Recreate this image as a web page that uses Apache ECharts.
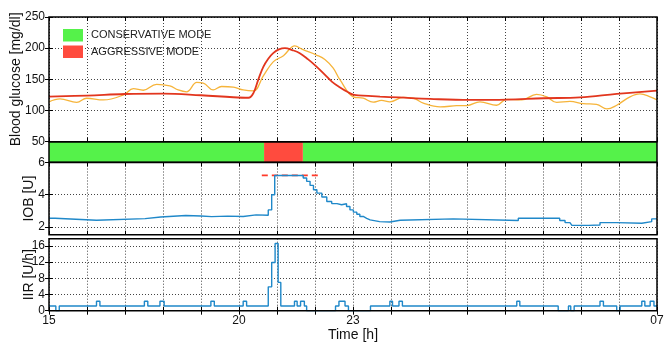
<!DOCTYPE html>
<html><head><meta charset="utf-8">
<script src="https://cdn.jsdelivr.net/npm/echarts@6/dist/echarts.min.js"></script>
<style>html,body{margin:0;padding:0;background:#fff}#c{width:664px;height:343px}</style>
</head><body><div id="c"></div><script>
// ---- data (hours since 15:00) ----
const xLabelValues = [0, 5, 8, 16];
const xLabelTexts = ['15', '20', '23', '07'];
const bgTicks = [50, 100, 150, 200, 250];
const iobTicks = [2, 4, 6];
const iirTicks = [0, 4, 8, 12, 16];

const cgmHours = [0,0.29,0.73,0.99,1.43,1.96,2.22,2.48,2.83,3.18,3.4,3.62,3.89,4.06,4.32,4.54,4.85,5.11,5.38,5.64,5.9,6.17,6.47,6.67,7.04,7.26,7.48,7.66,8.01,8.27,8.53,8.75,8.97,9.32,9.59,9.85,10.29,10.73,11,11.34,11.78,12.04,12.44,12.83,13.1,13.36,13.71,14.06,14.41,14.68,14.94,15.29,15.55,15.82,16];
const cgmValues = [114,118.6,113,119.7,117,125,135,132.5,142,139.5,133,130,145,144,133,138.5,137.5,133,131.5,155.5,178,188,203.7,198,189,182,168,149,122,119.7,113.5,116.2,114,121,119.7,112,106,107.7,108,114,108.5,118,117,126,122,113,114.6,111,110,102.5,108.5,122,126.6,122,117];

const modelHours = [0,1,2,3,4,4.85,5.25,5.38,5.51,5.64,5.77,5.9,6.05,6.21,6.4,6.6,6.82,7.04,7.25,7.45,7.66,7.85,8.03,8.4,8.71,9.2,10.03,11.08,12.04,13.01,13.97,14.94,16];
const modelValues = [122.3,124,126.5,127.2,124.5,121.3,120.5,128,150,170,183,192,198,200,197,192,182,170.5,158,146,137,130,125,123.5,122.3,121,118.6,117,117.5,119.7,121,126.6,132];

const modeStarts = [0, 5.66, 6.68];
const modeEnds = [5.66, 6.68, 16];
const modeKinds = ['CONSERVATIVE MODE', 'AGGRESSIVE MODE', 'CONSERVATIVE MODE'];

const iobHours = [0,0.16,1.25,2.53,2.94,3.6,4.0,4.28,4.7,5.11,5.45,5.77,5.86,5.94,6.69,6.78,6.87,6.96,7.05,7.18,7.31,7.44,7.58,7.7,7.83,7.92,8.01,8.1,8.18,8.27,8.36,8.45,8.7,8.97,9.24,10.64,12.35,13.44,13.58,13.71,13.76,14.2,14.5,14.94,15.6,15.86,16];
const iobValues = [2.54,2.42,2.52,2.62,2.71,2.68,2.64,2.67,2.65,2.75,2.73,3.06,4.0,5.19,5.04,4.83,4.58,4.31,4.1,3.86,3.58,3.45,3.38,3.44,3.27,3.06,2.92,2.79,2.65,2.54,2.44,2.33,2.31,2.42,2.5,2.4,2.54,2.4,2.27,2.17,2.1,2.12,2.27,2.23,2.33,2.5,2.5];

const iobLimitHours = [5.6, 7.09];
const iobLimitValue = 5.2;

const iirHours = [0,0.18,0.27,1.25,1.34,2.51,2.6,2.92,3.03,4.26,4.35,5.11,5.2,5.77,5.86,5.95,6.03,6.1,6.46,6.53,6.62,6.72,6.78,7.54,7.63,7.79,7.88,8.46,8.97,9.04,9.21,9.3,12.31,12.39,13.4,13.67,13.73,13.82,14.5,14.59,14.94,15.03,15.6,15.68,15.82,15.92,16];
const iirValues = [1.15,0,1.15,2.35,1.15,2.35,1.15,2.35,1.15,2.35,1.15,2.35,1.15,5.9,11.9,16.6,7.0,1.15,2.35,1.15,2.35,1.15,0,1.15,2.35,1.15,0,1.15,2.35,1.15,2.35,1.15,2.35,1.15,0,1.15,0,1.15,2.35,1.15,0,1.15,2.35,1.15,2.35,1.15,1.15];

// ---- chart ----
const FONT = '"Liberation Sans", Arial, Helvetica, sans-serif';
const zip = (a, b) => a.map((v, i) => [v, b[i]]);
const gridLine = {show: true, lineStyle: {color: '#444', width: 1, type: [1, 2]}};
const tick = {show: true, inside: true, length: 4, lineStyle: {color: '#000', width: 1}};

const grids = [
  {top: 17, height: 124.7},
  {top: 141.7, height: 20.6},
  {top: 162.5, height: 72.2},
  {top: 238.7, height: 72}
].map(g => Object.assign({left: 49, right: 7, show: true, borderColor: '#000', borderWidth: 1.5,
  backgroundColor: 'transparent', containLabel: false, outerBoundsMode: 'none', z: 10}, g));

function xAx(gridIndex, position, extra) {
  return Object.assign({
    type: 'value', gridIndex, position, min: 0, max: 16, interval: 1,
    axisLine: {show: false}, axisTick: tick, axisLabel: {show: false}, splitLine: {show: false}
  }, extra || {});
}
function yAx(gridIndex, position, min, max, ticks, extra) {
  return Object.assign({
    type: 'value', gridIndex, position, min, max,
    axisLine: {show: false},
    axisTick: Object.assign({customValues: ticks}, tick),
    axisLabel: {show: false},
    splitLine: {show: false}
  }, extra || {});
}
const yLabel = ticks => ({show: true, customValues: ticks, margin: 4, fontSize: 12, color: '#111', fontFamily: FONT});
const yName = (name, gap) => ({name, nameLocation: 'middle', nameGap: gap, nameMoveOverlap: false,
  nameTextStyle: {fontSize: 14, color: '#111', fontFamily: FONT}});

const xAxis = [
  xAx(0, 'bottom', {splitLine: gridLine}),
  xAx(0, 'top'),
  xAx(1, 'bottom', {show: false}),
  xAx(2, 'bottom', {splitLine: gridLine}),
  xAx(2, 'top'),
  xAx(3, 'bottom', Object.assign({splitLine: gridLine,
    axisLabel: {show: true, customValues: xLabelValues, margin: 4, fontSize: 12, color: '#111', fontFamily: FONT,
      formatter: v => xLabelTexts[xLabelValues.indexOf(v)]}}, yName('Time [h]', 17))),
  xAx(3, 'top')
];
const yAxis = [
  yAx(0, 'left', 50, 250, bgTicks, Object.assign({splitLine: gridLine, axisLabel: yLabel(bgTicks)}, yName('Blood glucose [mg/dl]', 26))),
  yAx(0, 'right', 50, 250, bgTicks),
  {type: 'value', gridIndex: 1, min: 0, max: 1, show: false},
  yAx(2, 'left', 1.52, 6, iobTicks, Object.assign({splitLine: gridLine, axisLabel: yLabel(iobTicks)}, yName('IOB [U]', 13))),
  yAx(2, 'right', 1.52, 6, iobTicks),
  yAx(3, 'left', 0, 17.8, iirTicks, Object.assign({splitLine: gridLine, axisLabel: yLabel(iirTicks)}, yName('IIR [U/h]', 13))),
  yAx(3, 'right', 0, 17.8, iirTicks)
];

function modeSeries(kind, color) {
  const data = [];
  modeKinds.forEach((k, i) => { if (k === kind) data.push([modeStarts[i], modeEnds[i]]); });
  return {
    type: 'custom', name: kind, xAxisIndex: 2, yAxisIndex: 2, data, color,
    itemStyle: {color}, encode: {x: [0, 1]},
    renderItem: (params, api) => {
      const p0 = api.coord([api.value(0), 1]);
      const p1 = api.coord([api.value(1), 0]);
      return {type: 'rect', shape: {x: p0[0], y: p0[1], width: p1[0] - p0[0], height: p1[1] - p0[1]},
        style: {fill: color}};
    }
  };
}

const option = {
  animation: false,
  backgroundColor: '#fff',
  textStyle: {fontFamily: FONT},
  grid: grids,
  xAxis, yAxis,
  legend: {
    data: ['CONSERVATIVE MODE', 'AGGRESSIVE MODE'],
    orient: 'vertical', left: 63, top: 29, padding: 0, itemGap: 4,
    itemWidth: 20, itemHeight: 12.5, icon: 'rect', selectedMode: false,
    textStyle: {fontSize: 11, color: '#222', fontFamily: FONT, padding: [0, 0, 0, 3]}
  },
  series: [
    {type: 'line', name: 'CGM', xAxisIndex: 0, yAxisIndex: 0, data: zip(cgmHours, cgmValues),
      smooth: 0.4, showSymbol: false, symbol: 'none', lineStyle: {color: '#f6b43a', width: 1.3}, z: 3},
    {type: 'line', name: 'Model', xAxisIndex: 0, yAxisIndex: 0, data: zip(modelHours, modelValues),
      smooth: 0.4, showSymbol: false, symbol: 'none', lineStyle: {color: '#e2361e', width: 1.8}, z: 4},
    modeSeries('CONSERVATIVE MODE', '#55f24a'),
    modeSeries('AGGRESSIVE MODE', '#ff4b3e'),
    {type: 'line', name: 'IOB limit', xAxisIndex: 3, yAxisIndex: 3,
      data: iobLimitHours.map(h => [h, iobLimitValue]), showSymbol: false, symbol: 'none',
      lineStyle: {color: '#ff3a2a', width: 1.6, type: [6, 4]}, z: 2},
    {type: 'line', name: 'IOB', xAxisIndex: 3, yAxisIndex: 3, data: zip(iobHours, iobValues), step: 'end',
      showSymbol: false, symbol: 'none', lineStyle: {color: '#1f88c9', width: 1.4}, z: 3},
    {type: 'line', name: 'IIR', xAxisIndex: 5, yAxisIndex: 5, data: zip(iirHours, iirValues), step: 'end',
      showSymbol: false, symbol: 'none', lineStyle: {color: '#1f88c9', width: 1.4}, z: 3}
  ]
};
const chart = echarts.init(document.getElementById('c'), null, {renderer: 'canvas'});
chart.setOption(option);
</script></body></html>
